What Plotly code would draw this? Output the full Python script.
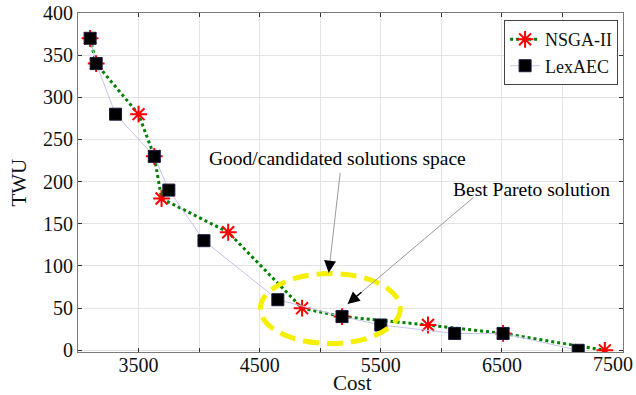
import plotly.graph_objects as go

# Pareto fronts: total cost vs. TWU
nsga_cost = [3100, 3150, 3500, 3630, 3690, 4240, 4850, 5180, 5890, 6510, 7350]
nsga_twu = [370, 340, 280, 230, 180, 140, 50, 40, 30, 20, 0]

lex_cost = [3100, 3150, 3310, 3630, 3750, 4040, 4650, 5180, 5500, 6110, 6510, 7130]
lex_twu = [370, 340, 280, 230, 190, 130, 60, 40, 30, 20, 20, 0]

x_ticks = [3000, 3500, 4000, 4500, 5000, 5500, 6000, 6500, 7000, 7500]
x_tick_text = ["", "3500", "", "4500", "", "5500", "", "6500", "", ""]
x_last_label = "7500"   # drawn flush with the right edge so it stays in view
y_ticks = [0, 50, 100, 150, 200, 250, 300, 350, 400]

FONT = "Liberation Serif"
AXIS_GRAY = "#7a7a7a"

fig = go.Figure()

fig.add_trace(go.Scatter(
    x=nsga_cost, y=nsga_twu, name="NSGA-II", mode="lines+markers",
    line=dict(color="#008000", width=3, dash="dot"),
    marker=dict(symbol="asterisk-open", size=14, color="#ff0000",
                line=dict(color="#ff0000", width=2)),
))
fig.add_trace(go.Scatter(
    x=lex_cost, y=lex_twu, name="LexAEC", mode="lines+markers",
    line=dict(color="#c4c4ee", width=1),
    marker=dict(symbol="square", size=12, color="#000000",
                line=dict(color="#1a1a40", width=1)),
))

# region of good / candidate solutions
fig.add_shape(type="circle", xref="x", yref="y",
              x0=4506, x1=5661, y0=8, y1=91,
              line=dict(color="#f5f000", width=5, dash="16px,8px"),
              layer="above")


def pointer(text, tx, ty, hx, hy, lx, ly):
    """Text label with a thin gray leader and a black arrow head."""
    fig.add_annotation(x=tx, y=ty, xref="x", yref="y", text=text,
                       showarrow=False, font=dict(family=FONT, size=19.5, color="#000"))
    fig.add_annotation(x=hx, y=hy, ax=lx, ay=ly, xref="x", yref="y",
                       axref="x", ayref="y", text="", showarrow=True,
                       arrowhead=0, arrowwidth=1, arrowcolor="#9a9a9a")
    dx, dy = lx - hx, ly - hy
    fig.add_annotation(x=hx, y=hy, ax=hx + dx * 0.12, ay=hy + dy * 0.12,
                       xref="x", yref="y", axref="x", ayref="y", text="",
                       showarrow=True, arrowhead=2, arrowsize=1.6,
                       arrowwidth=1.5, arrowcolor="#000000")


pointer("Good/candidated solutions space", 5145, 228, 5070, 92, 5166, 212)
pointer("Best Pareto solution", 6741, 191, 5226, 55, 6279, 183)

# axis titles
fig.add_annotation(text="Cost", xref="paper", yref="paper", x=0.503, y=-0.09,
                   showarrow=False, xanchor="center", yanchor="middle",
                   font=dict(family=FONT, size=21, color="#111"))
fig.add_annotation(text="TWU", xref="paper", yref="paper", x=-0.110, y=0.5,
                   showarrow=False, xanchor="center", yanchor="middle", textangle=-90,
                   font=dict(family=FONT, size=21, color="#111"))
# right-most cost tick label
fig.add_annotation(text=x_last_label, xref="paper", yref="paper", x=1.022, y=-0.035,
                   showarrow=False, xanchor="right", yanchor="middle",
                   font=dict(family=FONT, size=20, color="#111"))

axis_common = dict(
    showline=True, linecolor=AXIS_GRAY, linewidth=1, mirror="ticks",
    ticks="inside", ticklen=4, tickcolor="#333333",
    showgrid=True, gridcolor="#e3e3e3", gridwidth=1, zeroline=False,
    tickfont=dict(family=FONT, size=20, color="#111"),
    automargin=False,
)

fig.update_xaxes(range=[3000, 7500], tickmode="array", tickvals=x_ticks,
                 ticktext=x_tick_text, ticklabelstandoff=-5, **axis_common)
fig.update_yaxes(range=[-2, 400], tickmode="array", tickvals=y_ticks,
                 **axis_common)

fig.update_layout(
    width=636, height=395,
    margin=dict(l=78, r=13, t=13, b=43),
    paper_bgcolor="white", plot_bgcolor="white",
    font=dict(family=FONT, color="#111"),
    legend=dict(x=0.991, y=0.979, xanchor="right", yanchor="top",
                bgcolor="white", bordercolor="#444", borderwidth=1,
                font=dict(family=FONT, size=18), tracegroupgap=0),
)

fig.write_html("out.html")
